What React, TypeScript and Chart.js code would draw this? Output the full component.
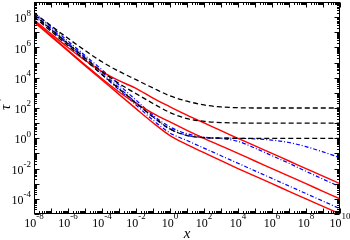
import React, { useEffect, useRef } from "react";
import { Chart, registerables } from "chart.js";
Chart.register(...registerables);

// x positions: log10(x)
const xExp = [-8, -7, -6, -5, -4, -3, -2, -1, 0, 1, 2, 3, 4, 5, 6, 7, 8, 9, 10];

// series values as log10(tau*)
const blackTop = [8.28, 7.43, 6.6, 5.8, 5.05, 4.42, 3.87, 3.32, 2.8, 2.45, 2.2, 2.07, 2.02, 2.0, 2.0, 2.0, 2.0, 2.0, 2.0];
const blackMid = [8.15, 7.2, 6.25, 5.3, 4.4, 3.62, 2.95, 2.3, 1.7, 1.3, 1.12, 1.04, 1.01, 1.0, 1.0, 1.0, 1.0, 1.0, 1.0];
const blackLow = [8.02, 7.07, 6.12, 5.17, 4.22, 3.27, 2.33, 1.42, 0.62, 0.18, 0.04, 0.01, 0.0, 0.0, 0.0, 0.0, 0.0, 0.0, 0.0];

const redTop = [7.82, 6.9, 6.0, 5.15, 4.4, 3.8, 3.3, 2.65, 2.08, 1.53, 1.02, 0.5, 0.0, -0.5, -1.0, -1.5, -2.0, -2.5, -3.0];
const redMid = [7.75, 6.78, 5.81, 4.86, 3.93, 3.06, 2.3, 1.65, 1.08, 0.53, 0.0, -0.5, -1.0, -1.5, -2.0, -2.5, -3.0, -3.5, -4.0];
const redLow = [7.68, 6.72, 5.76, 4.8, 3.85, 2.9, 1.96, 1.03, 0.18, -0.42, -0.95, -1.48, -2.0, -2.5, -3.0, -3.5, -4.0, -4.5, -5.0];

const blueTop = [8.32, 7.37, 6.42, 5.47, 4.52, 3.52, 2.52, 1.52, 0.75, 0.3, 0.08, 0.02, 0.0, -0.04, -0.12, -0.28, -0.55, -0.9, -1.28];
const blueMid = [8.2, 7.25, 6.3, 5.35, 4.35, 3.35, 2.35, 1.4, 0.6, 0.2, 0.04, -0.02, -0.2, -0.65, -1.15, -1.65, -2.18, -2.7, -3.2];
const blueLow = [8.1, 7.15, 6.2, 5.2, 4.2, 3.2, 2.2, 1.2, 0.35, -0.15, -0.65, -1.15, -1.65, -2.15, -2.65, -3.15, -3.65, -4.15, -4.65];

const xTickExps = [-8, -6, -4, -2, 0, 2, 4, 6, 8, 10];
const yTickExps = [-4, -2, 0, 2, 4, 6, 8];

const SERIF = "'Liberation Serif', 'Times New Roman', serif";

function drawPow(ctx: CanvasRenderingContext2D, e: number, x: number, baseY: number, expY: number, align: "center" | "right") {
  ctx.font = `12px ${SERIF}`;
  const bw = ctx.measureText("10").width;
  const es = String(e);
  ctx.font = `9px ${SERIF}`;
  const ew = ctx.measureText(es).width;
  const total = bw + ew;
  const start = align === "center" ? x - total / 2 : x - total;
  ctx.textAlign = "left";
  ctx.textBaseline = "middle";
  ctx.font = `12px ${SERIF}`;
  ctx.fillText("10", start, baseY);
  ctx.font = `9px ${SERIF}`;
  ctx.fillText(es, start + bw, expY);
}

const axesPlugin = {
  id: "axesPlugin",
  afterDraw(chart: any) {
    const { ctx, chartArea: a, scales } = chart;
    const xs = scales.x;
    const ys = scales.y;
    ctx.save();
    ctx.strokeStyle = "#000";
    ctx.fillStyle = "#000";
    ctx.lineWidth = 1;
    const L = Math.round(a.left) + 0.5;
    const R = Math.round(a.right) - 0.5;
    const T = Math.round(a.top) + 0.5;
    const B = Math.round(a.bottom) - 0.5;
    ctx.strokeRect(L, T, R - L, B - T);
    const major = 5;
    const minor = 2.5;
    ctx.beginPath();
    for (let e = -8; e <= 10; e++) {
      for (let k = 1; k <= 9; k++) {
        const v = k * Math.pow(10, e);
        if (v > 1e10 * 1.0001) continue;
        const px = Math.round(xs.getPixelForValue(v)) + 0.5;
        const len = k === 1 ? major : minor;
        ctx.moveTo(px, B); ctx.lineTo(px, B - len);
        ctx.moveTo(px, T); ctx.lineTo(px, T + len);
      }
    }
    for (let e = -5; e <= 9; e++) {
      for (let k = 1; k <= 9; k++) {
        const v = k * Math.pow(10, e);
        if (v > 1e9 * 1.0001) continue;
        const py = Math.round(ys.getPixelForValue(v)) + 0.5;
        const len = k === 1 ? major : minor;
        ctx.moveTo(L, py); ctx.lineTo(L + len, py);
        ctx.moveTo(R, py); ctx.lineTo(R - len, py);
      }
    }
    ctx.stroke();
    for (const e of xTickExps) {
      const px = xs.getPixelForValue(Math.pow(10, e));
      drawPow(ctx, e, px, 224, 217, "center");
    }
    for (const e of yTickExps) {
      const py = ys.getPixelForValue(Math.pow(10, e));
      drawPow(ctx, e, 31, py + 2, py - 4, "right");
    }
    // axis titles
    ctx.font = `italic 15px ${SERIF}`;
    ctx.textAlign = "center";
    ctx.textBaseline = "alphabetic";
    ctx.fillText("x", (a.left + a.right) / 2, 238);
    ctx.save();
    ctx.translate(10, 106);
    ctx.rotate(-Math.PI / 2);
    ctx.font = `italic 15px ${SERIF}`;
    ctx.textAlign = "left";
    ctx.fillText("\u03c4", -4, 0);
    ctx.font = `12px ${SERIF}`;
    ctx.fillText("*", 3, -6);
    ctx.restore();
    ctx.restore();
  },
};

export default function App() {
  const ref = useRef<HTMLCanvasElement>(null);
  useEffect(() => {
    document.body.style.margin = "0";
    const mk = (arr: number[]) => xExp.map((e, i) => ({ x: Math.pow(10, e), y: Math.pow(10, arr[i]) }));
    const black = (arr: number[]) => ({
      data: mk(arr), borderColor: "#000000", borderWidth: 1.3, borderDash: [5, 3], pointRadius: 0, cubicInterpolationMode: "monotone" as const,
    });
    const red = (arr: number[]) => ({
      data: mk(arr), borderColor: "#ff0000", borderWidth: 1.4, pointRadius: 0, cubicInterpolationMode: "monotone" as const,
    });
    const blue = (arr: number[]) => ({
      data: mk(arr), borderColor: "#0000ff", borderWidth: 1.2, borderDash: [4, 2, 1, 2], pointRadius: 0, cubicInterpolationMode: "monotone" as const,
    });
    const chart = new Chart(ref.current!, {
      type: "line",
      data: {
        datasets: [
          black(blackTop), black(blackMid), black(blackLow),
          red(redTop), red(redMid), red(redLow),
          blue(blueTop), blue(blueMid), blue(blueLow),
        ],
      },
      options: {
        animation: false,
        responsive: false,
        maintainAspectRatio: false,
        layout: { padding: { left: 34, right: 10, top: 2, bottom: 26 } },
        scales: {
          x: { type: "logarithmic", min: 1e-8, max: 1e10, display: false },
          y: { type: "logarithmic", min: 1e-5, max: 1e9, display: false },
        },
        plugins: { legend: { display: false }, tooltip: { enabled: false } },
      },
      plugins: [axesPlugin],
    });
    return () => chart.destroy();
  }, []);
  return <canvas ref={ref} width={350} height={240} style={{ display: "block" }} />;
}
